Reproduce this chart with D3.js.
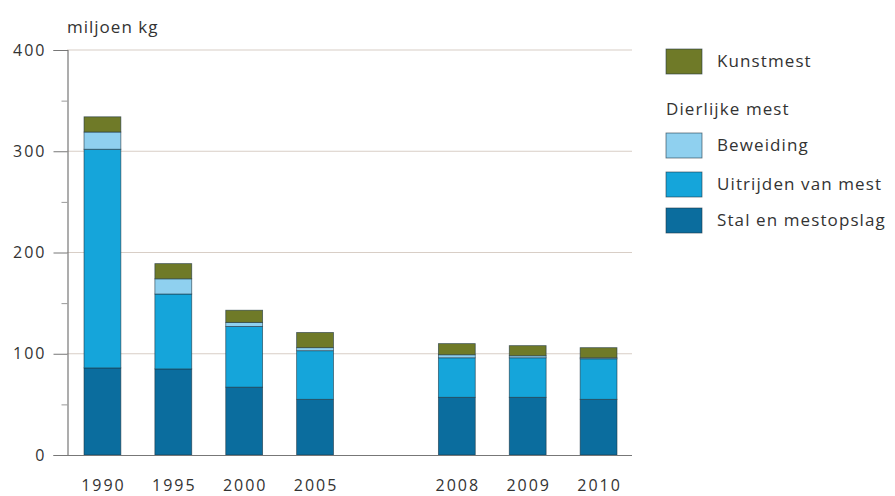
<!DOCTYPE html>
<html><head><meta charset="utf-8">
<script src="https://cdn.jsdelivr.net/npm/d3@7"></script>
<style>
html,body{margin:0;padding:0;background:#fff;}
text{font-family:"Open Sans","Noto Sans",sans-serif;fill:#333;}
</style></head>
<body><svg id="chart" width="895" height="496"></svg>
<script>
const years = ["1990","1995","2000","2005","2008","2009","2010"];
const slots = ["1990","1995","2000","2005","gap","2008","2009","2010"];
const stal = [86, 85, 67, 55, 57, 57, 55];
const uitrijden = [216, 74, 60, 48, 39, 39, 40];
const beweiding = [17, 15, 4, 3, 3, 2, 1];
const kunstmest = [15, 15, 12, 15, 11, 10, 10];
const seriesNames = ["Stal en mestopslag","Uitrijden van mest","Beweiding","Kunstmest"];
const seriesKeys = ["stal","uitrijden","beweiding","kunstmest"];
const colors = ["#0b6d9e","#15a5da","#8fd0ef","#6f7a28"];
const yTicks = [0,100,200,300,400];
const yMinor = [50,150,250,350];

const table = years.map((y,i)=>({year:y, stal:stal[i], uitrijden:uitrijden[i], beweiding:beweiding[i], kunstmest:kunstmest[i]}));
const stack = d3.stack().keys(seriesKeys)(table);

const svg = d3.select("#chart");
const x = d3.scaleBand().domain(slots).range([67,634]).paddingInner(0.48).paddingOuter(0.24);
const y = d3.scaleLinear().domain([0,400]).range([455,50]);

// gridlines
svg.append("g").selectAll("line").data(yTicks.filter(t=>t>0)).join("line")
  .attr("x1",67).attr("x2",632).attr("y1",d=>y(d)).attr("y2",d=>y(d))
  .attr("stroke","#d8cec6").attr("stroke-width",1.2);

// y axis
const yAxis = svg.append("g").attr("transform","translate(67.5,0)")
  .call(d3.axisLeft(y).tickValues(yTicks).tickSize(14).tickPadding(7).tickFormat(d3.format("d")));
yAxis.select(".domain").attr("stroke","#777").attr("stroke-width",1.2);
yAxis.selectAll(".tick line").attr("stroke","#777");
yAxis.selectAll("text").style("font-size","16px").style("letter-spacing","2px").attr("fill","#333");
svg.append("g").attr("transform","translate(67.5,0)")
  .call(d3.axisLeft(y).tickValues(yMinor).tickSize(6).tickFormat(""))
  .call(g=>g.select(".domain").remove())
  .selectAll(".tick line").attr("stroke","#999");

// bars
svg.append("g").selectAll("g").data(stack).join("g")
  .attr("fill",(d,i)=>colors[i])
  .selectAll("rect").data(d=>d).join("rect")
  .attr("x",d=>x(d.data.year)).attr("width",x.bandwidth())
  .attr("y",d=>y(d[1])).attr("height",d=>y(d[0])-y(d[1]))
  .attr("stroke","#1d3340").attr("stroke-width",0.8).attr("stroke-opacity",0.7);

// x axis baseline
svg.append("line").attr("x1",67).attr("x2",632).attr("y1",y(0)+0.5).attr("y2",y(0)+0.5)
  .attr("stroke","#777").attr("stroke-width",1.2);

// x labels
svg.append("g").selectAll("text").data(years).join("text")
  .attr("x",d=>x(d)+x.bandwidth()/2+1).attr("y",491)
  .attr("text-anchor","middle").style("font-size","16px").style("letter-spacing","2px")
  .text(d=>d);

// unit label
svg.append("text").attr("x",67).attr("y",33).style("font-size","17px").style("letter-spacing","1px").text("miljoen kg");

// legend
const legend = svg.append("g");
const legendItems = [
  {name:seriesNames[3], color:colors[3], y:61},
  {name:seriesNames[2], color:colors[2], y:145},
  {name:seriesNames[1], color:colors[1], y:184},
  {name:seriesNames[0], color:colors[0], y:220}
];
legend.selectAll("rect").data(legendItems).join("rect")
  .attr("x",666).attr("y",d=>d.y-12).attr("width",36).attr("height",25)
  .attr("fill",d=>d.color).attr("stroke","#1d3340").attr("stroke-width",0.8).attr("stroke-opacity",0.7);
legend.selectAll("text.item").data(legendItems).join("text").attr("class","item")
  .attr("x",717).attr("y",d=>d.y+6).style("font-size","17px").style("letter-spacing","1.1px")
  .text(d=>d.name);
legend.append("text").attr("x",666).attr("y",115).style("font-size","17px").style("letter-spacing","1.1px").text("Dierlijke mest");
</script></body></html>
